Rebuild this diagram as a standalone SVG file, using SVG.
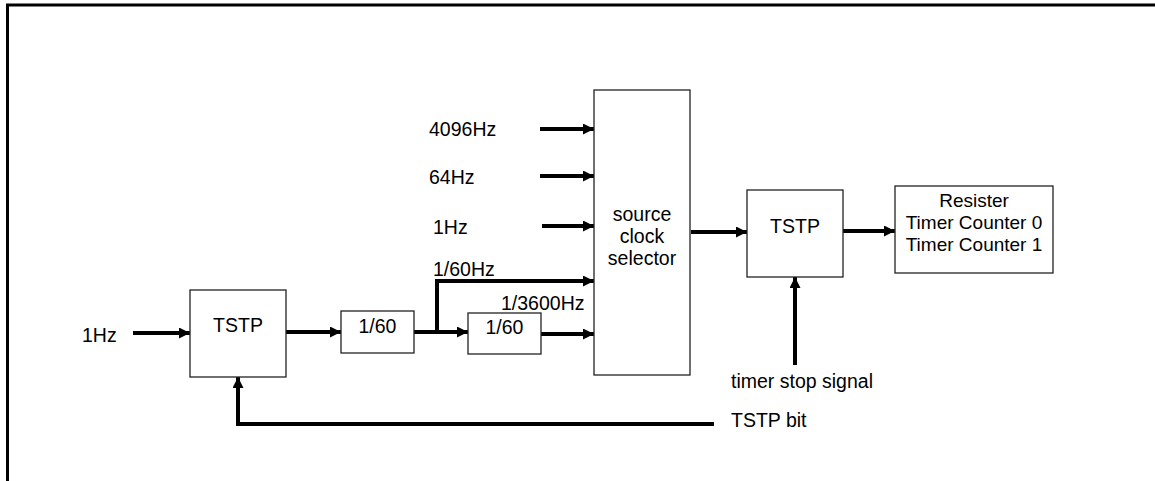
<svg xmlns="http://www.w3.org/2000/svg" width="1155" height="481" viewBox="0 0 1155 481">
<defs>
<marker id="ah" markerUnits="userSpaceOnUse" markerWidth="11" markerHeight="11" refX="11" refY="5.5" orient="auto"><path d="M0,0 L11,5.5 L0,11 z" fill="#000"/></marker>
<style>
.box{fill:#fff;stroke:#222;stroke-width:1.3}
.t{font-family:"Liberation Sans",Arial,sans-serif;font-size:19.5px;fill:#000}
.c{text-anchor:middle}
.w{fill:none;stroke:#000;stroke-width:4}
.a{marker-end:url(#ah)}
</style>
</defs>
<rect width="1155" height="481" fill="#fff"/>
<g id="frame"><path d="M7.5,481 V5 H1155" fill="none" stroke="#000" stroke-width="3"/></g>
<g id="connectors">
<line class="w a" x1="133" y1="333" x2="190" y2="333"/>
<line class="w a" x1="286" y1="332" x2="341" y2="332"/>
<line class="w a" x1="414" y1="332" x2="468" y2="332"/>
<polyline class="w a" points="437,333 437,281 594,281"/>
<line class="w a" x1="541" y1="334" x2="594" y2="334"/>
<line class="w a" x1="540" y1="129" x2="594" y2="129"/>
<line class="w a" x1="540" y1="176" x2="594" y2="176"/>
<line class="w a" x1="542" y1="226" x2="594" y2="226"/>
<line class="w a" x1="691" y1="232" x2="747" y2="232"/>
<line class="w a" x1="843" y1="231" x2="895" y2="231"/>
<line class="w a" x1="795" y1="365" x2="795" y2="277"/>
<polyline class="w a" points="714,424 238,424 238,377"/>
</g>
<g id="tstp1"><rect class="box" x="190" y="290" width="96" height="87"/><text class="t c" x="238" y="332">TSTP</text></g>
<g id="div1"><rect class="box" x="341" y="311" width="73" height="42"/><text class="t c" x="377.5" y="333">1/60</text></g>
<g id="div2"><rect class="box" x="468" y="313" width="73" height="41"/><text class="t c" x="504.5" y="334">1/60</text></g>
<g id="selector"><rect class="box" x="594" y="90" width="96" height="285"/>
<text class="t c" x="642" y="221">source</text><text class="t c" x="642" y="243">clock</text><text class="t c" x="642" y="265">selector</text></g>
<g id="tstp2"><rect class="box" x="747" y="190" width="96" height="87"/><text class="t c" x="795" y="233">TSTP</text></g>
<g id="register"><rect class="box" x="895" y="186" width="158" height="87"/>
<text class="t c" x="974" y="207" style="font-size:19px">Resister</text><text class="t c" x="974" y="229" style="font-size:19px">Timer Counter 0</text><text class="t c" x="974" y="251" style="font-size:19px">Timer Counter 1</text></g>
<g id="labels">
<text class="t" x="429" y="136">4096Hz</text>
<text class="t" x="429" y="184">64Hz</text>
<text class="t" x="433" y="234">1Hz</text>
<text class="t" x="433" y="276">1/60Hz</text>
<text class="t" x="501" y="310">1/3600Hz</text>
<text class="t" x="82" y="342">1Hz</text>
<text class="t" x="731" y="388">timer stop signal</text>
<text class="t" x="731" y="427">TSTP bit</text>
</g>
</svg>
